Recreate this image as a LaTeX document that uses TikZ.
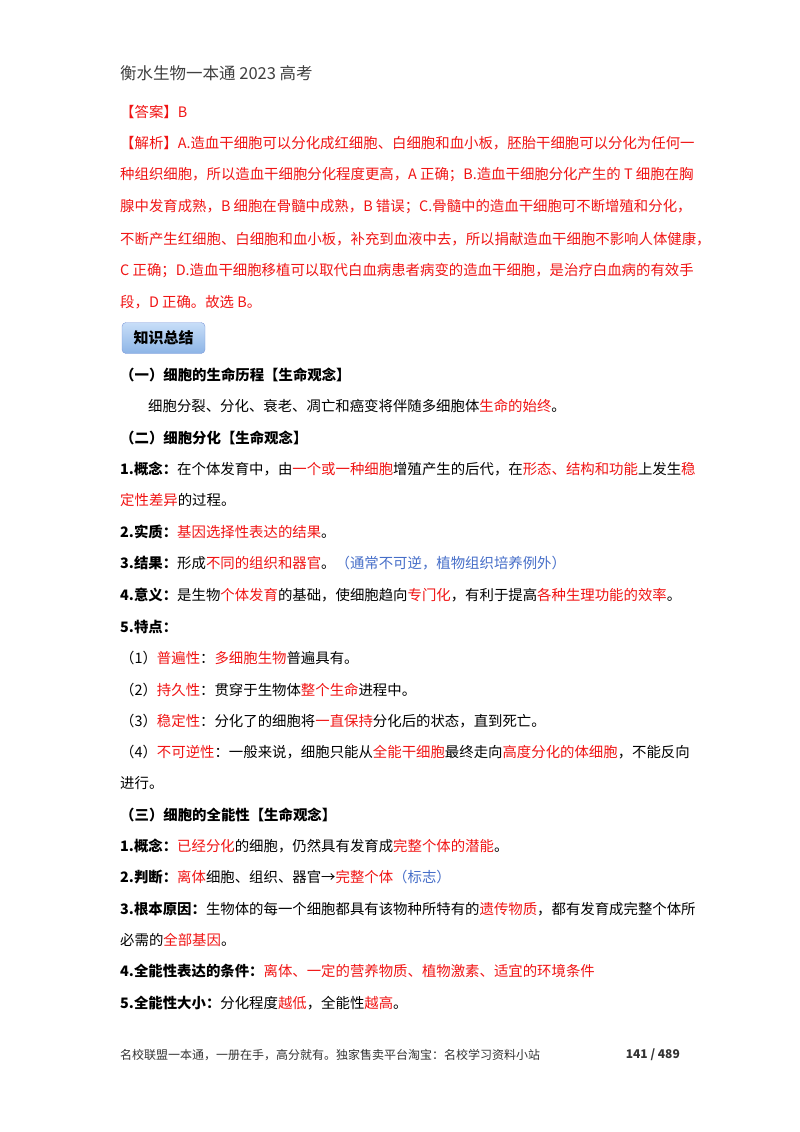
\documentclass[tikz,border=0pt]{standalone}
\usepackage{fontspec}
\setmainfont{Noto Sans CJK SC}
\usetikzlibrary{positioning}
\definecolor{ansred}{RGB}{240,20,20}
\definecolor{notblue}{RGB}{70,110,200}
\definecolor{boxtop}{RGB}{200,222,248}
\definecolor{boxbot}{RGB}{140,180,230}
\newcommand{\rd}[1]{\textcolor{ansred}{#1}}
\newcommand{\bl}[1]{\textcolor{notblue}{#1}}
\begin{document}
\begin{tikzpicture}[x=1pt,y=-1pt,
line/.style={anchor=west, inner sep=0pt, font=\fontsize{14.4}{14.4}\selectfont},
redline/.style={line, text=ansred},
header/.style={anchor=west, inner sep=0pt, font=\fontsize{16.5}{16.5}\selectfont, text=black!75},
footer/.style={inner sep=0pt, font=\fontsize{12}{12}\selectfont, text=black!80},
sumbox/.style={draw=notblue!70, rounded corners=4pt, top color=boxtop, bottom color=boxbot, minimum width=83pt, minimum height=31pt, font=\fontsize{15}{15}\selectfont\bfseries},
]
\useasboundingbox (0,0) rectangle (800,1132);
\node[header] (head) at (120,73) {衡水生物一本通 2023 高考};
\node[redline] (ans) at (120,112) {【答案】B};
\node[redline] (ex1) at (120,143) {【解析】A.造血干细胞可以分化成红细胞、白细胞和血小板，胚胎干细胞可以分化为任何一};
\node[redline] (ex2) at (120,175) {种组织细胞，所以造血干细胞分化程度更高，A 正确；B.造血干细胞分化产生的 T 细胞在胸};
\node[redline] (ex3) at (120,207) {腺中发育成熟，B 细胞在骨髓中成熟，B 错误；C.骨髓中的造血干细胞可不断增殖和分化，};
\node[redline] (ex4) at (120,239) {不断产生红细胞、白细胞和血小板，补充到血液中去，所以捐献造血干细胞不影响人体健康，};
\node[redline] (ex5) at (120,271) {C 正确；D.造血干细胞移植可以取代白血病患者病变的造血干细胞，是治疗白血病的有效手};
\node[redline] (ex6) at (120,302) {段，D 正确。故选 B。};
\node[sumbox] (sum) at (163.5,338) {知识总结};
% (一)
\node[line] (s1) at (120,375) {\bfseries （一）细胞的生命历程【生命观念】};
\node[line] (s1a) at (148,406) {细胞分裂、分化、衰老、凋亡和癌变将伴随多细胞体\rd{生命的始终}。};
% (二)
\node[line] (s2) at (120,438) {\bfseries （二）细胞分化【生命观念】};
\node[line] (s2a) at (120,469) {\textbf{1.概念：}在个体发育中，由\rd{一个或一种细胞}增殖产生的后代，在\rd{形态、结构和功能}上发生\rd{稳}};
\node[line] (s2b) at (120,500) {\rd{定性差异}的过程。};
\node[line] (s2c) at (120,532) {\textbf{2.实质：}\rd{基因选择性表达的结果}。};
\node[line] (s2d) at (120,563) {\textbf{3.结果：}形成\rd{不同的组织和器官}。\bl{（通常不可逆，植物组织培养例外）}};
\node[line] (s2e) at (120,595) {\textbf{4.意义：}是生物\rd{个体发育}的基础，使细胞趋向\rd{专门化}，有利于提高\rd{各种生理功能的效率}。};
\node[line] (s2f) at (120,627) {\textbf{5.特点：}};
\node[line] (s2g) at (120,658) {（1）\rd{普遍性}：\rd{多细胞生物}普遍具有。};
\node[line] (s2h) at (120,690) {（2）\rd{持久性}：贯穿于生物体\rd{整个生命}进程中。};
\node[line] (s2i) at (120,721) {（3）\rd{稳定性}：分化了的细胞将\rd{一直保持}分化后的状态，直到死亡。};
\node[line] (s2j) at (120,752) {（4）\rd{不可逆性}：一般来说，细胞只能从\rd{全能干细胞}最终走向\rd{高度分化的体细胞}，不能反向};
\node[line] (s2k) at (120,783) {进行。};
% (三)
\node[line] (s3) at (120,815) {\bfseries （三）细胞的全能性【生命观念】};
\node[line] (s3a) at (120,846) {\textbf{1.概念：}\rd{已经分化}的细胞，仍然具有发育成\rd{完整个体的潜能}。};
\node[line] (s3b) at (120,877) {\textbf{2.判断：}\rd{离体}细胞、组织、器官→\rd{完整个体}\bl{（标志）}};
\node[line] (s3c) at (120,909) {\textbf{3.根本原因：}生物体的每一个细胞都具有该物种所特有的\rd{遗传物质}，都有发育成完整个体所};
\node[line] (s3d) at (120,940) {必需的\rd{全部基因}。};
\node[line] (s3e) at (120,971) {\textbf{4.全能性表达的条件：}\rd{离体、一定的营养物质、植物激素、适宜的环境条件}};
\node[line] (s3f) at (120,1003) {\textbf{5.全能性大小：}分化程度\rd{越低}，全能性\rd{越高}。};
\node[footer, anchor=west] (foot) at (120,1055) {名校联盟一本通，一册在手，高分就有。独家售卖平台淘宝：名校学习资料小站};
\node[footer, anchor=east] (page) at (680,1055) {\bfseries 141 / 489};
\end{tikzpicture}
\end{document}
